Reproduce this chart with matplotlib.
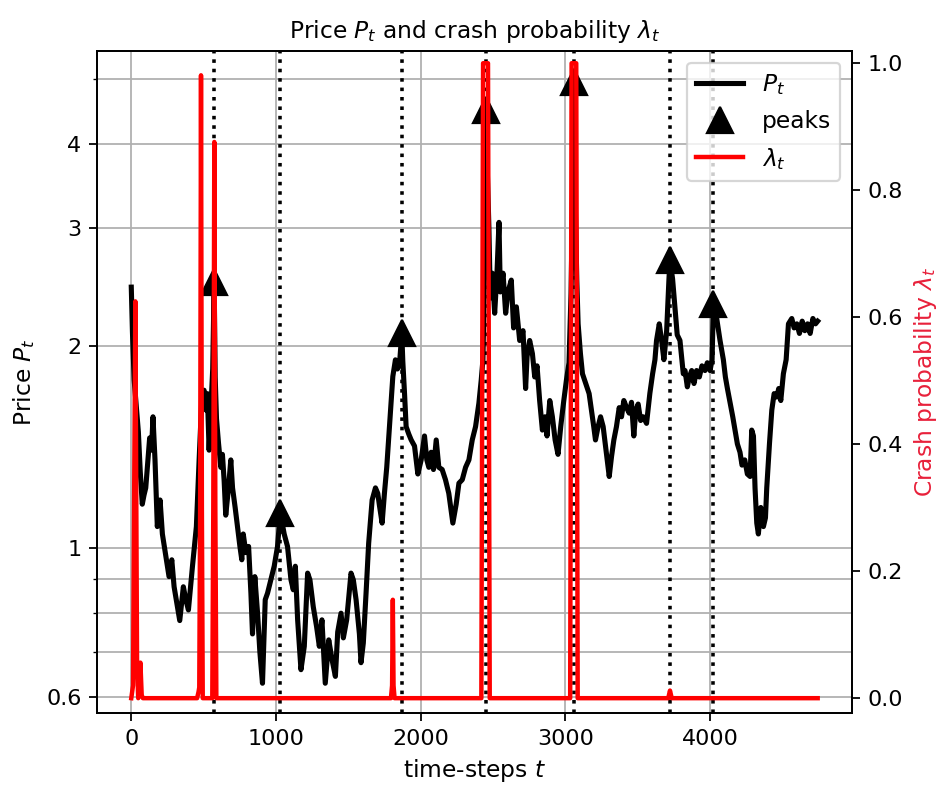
import numpy as np
import matplotlib.pyplot as plt
from matplotlib.ticker import NullFormatter

# price path P_t
price_t = [0, 8, 20, 35, 49, 62, 76, 88, 100, 111, 127, 140, 150, 164, 180, 199, 215, 243, 261, 280,
           296, 319, 335, 360, 377, 395, 423, 450, 469, 487, 503, 515, 526, 538, 552, 563, 573, 580, 589, 603,
           619, 630, 642, 653, 672, 688, 700, 718, 734, 751, 764, 774, 792, 811, 827, 838, 854, 873, 889, 907,
           926, 942, 965, 988, 1011, 1030, 1057, 1080, 1104, 1120, 1134, 1150, 1173, 1196, 1219, 1235, 1258, 1281, 1300, 1318,
           1341, 1365, 1388, 1411, 1427, 1450, 1466, 1489, 1519, 1535, 1554, 1577, 1588, 1604, 1623, 1641, 1665, 1688, 1704, 1715,
           1734, 1750, 1766, 1785, 1808, 1826, 1840, 1854, 1862, 1870, 1877, 1889, 1900, 1918, 1935, 1958, 1981, 2004, 2027, 2043,
           2057, 2073, 2089, 2108, 2126, 2149, 2172, 2195, 2223, 2246, 2265, 2288, 2311, 2334, 2357, 2380, 2403, 2419, 2431, 2442,
           2454, 2462, 2472, 2482, 2496, 2512, 2528, 2542, 2551, 2570, 2588, 2604, 2627, 2643, 2662, 2685, 2708, 2726, 2736, 2754,
           2773, 2789, 2805, 2823, 2842, 2860, 2874, 2893, 2911, 2930, 2950, 2969, 2990, 3008, 3026, 3040, 3050, 3061, 3070, 3080,
           3089, 3105, 3119, 3142, 3165, 3181, 3197, 3209, 3227, 3244, 3262, 3276, 3290, 3304, 3320, 3336, 3354, 3373, 3389, 3405,
           3424, 3442, 3458, 3474, 3488, 3504, 3521, 3539, 3562, 3585, 3604, 3620, 3631, 3650, 3666, 3682, 3701, 3717, 3724, 3742,
           3758, 3774, 3793, 3816, 3828, 3844, 3858, 3874, 3890, 3908, 3927, 3945, 3966, 3982, 4001, 4015, 4024, 4047, 4070, 4093,
           4107, 4121, 4139, 4158, 4174, 4190, 4208, 4222, 4241, 4259, 4278, 4289, 4301, 4312, 4324, 4335, 4352, 4370, 4384, 4393,
           4412, 4428, 4444, 4462, 4476, 4490, 4508, 4527, 4543, 4566, 4582, 4601, 4619, 4638, 4656, 4675, 4693, 4712, 4730, 4745]
price_p = [2.45, 2.10, 1.78, 1.62, 1.49, 1.30, 1.163, 1.20, 1.23, 1.32, 1.46, 1.40, 1.57, 1.354, 1.077, 1.18, 1.05, 0.961, 0.907, 0.961,
           0.876, 0.818, 0.78, 0.876, 0.838, 0.809, 0.94, 1.077, 1.354, 1.66, 1.72, 1.607, 1.70, 1.40, 1.645, 1.85, 2.49, 1.80, 1.56, 1.434,
           1.32, 1.38, 1.26, 1.12, 1.23, 1.354, 1.23, 1.15, 1.077, 1.006, 0.961, 1.05, 0.985, 1.006, 0.857, 0.745, 0.907, 0.80, 0.70, 0.629,
           0.838, 0.857, 0.897, 0.94, 1.006, 1.13, 1.05, 1.006, 0.897, 0.867, 0.94, 0.782, 0.659, 0.714, 0.918, 0.897, 0.818, 0.764, 0.714, 0.782,
           0.629, 0.73, 0.682, 0.644, 0.75, 0.80, 0.735, 0.782, 0.918, 0.897, 0.838, 0.745, 0.675, 0.722, 0.857, 1.017, 1.18, 1.23, 1.207, 1.16,
           1.09, 1.207, 1.32, 1.518, 1.803, 1.909, 1.85, 1.88, 1.98, 2.09, 1.90, 1.70, 1.518, 1.48, 1.45, 1.42, 1.29, 1.354, 1.47, 1.354,
           1.32, 1.39, 1.31, 1.45, 1.32, 1.31, 1.265, 1.207, 1.09, 1.163, 1.25, 1.265, 1.32, 1.354, 1.45, 1.518, 1.645, 1.78, 1.91, 2.6,
           4.50, 3.6, 3.02, 2.36, 2.57, 2.24, 2.57, 3.06, 2.41, 2.57, 2.24, 2.41, 2.51, 2.13, 2.29, 2.04, 2.11, 1.73, 1.93, 2.04,
           1.95, 1.80, 1.87, 1.66, 1.50, 1.57, 1.47, 1.66, 1.57, 1.45, 1.38, 1.52, 1.66, 1.78, 1.89, 2.4, 3.3, 4.95, 3.2, 2.5,
           2.16, 1.95, 1.82, 1.76, 1.70, 1.607, 1.518, 1.45, 1.518, 1.57, 1.518, 1.434, 1.354, 1.279, 1.37, 1.45, 1.518, 1.62, 1.57, 1.66,
           1.62, 1.59, 1.65, 1.47, 1.607, 1.64, 1.55, 1.57, 1.535, 1.702, 1.82, 1.909, 2.04, 2.16, 2.04, 1.91, 2.11, 2.52, 2.69, 2.52,
           2.29, 2.08, 2.04, 1.82, 1.84, 1.74, 1.80, 1.84, 1.76, 1.84, 1.80, 1.87, 1.84, 1.89, 1.84, 1.91, 2.31, 2.20, 2.04, 1.91,
           1.80, 1.73, 1.65, 1.57, 1.50, 1.43, 1.39, 1.33, 1.354, 1.29, 1.279, 1.50, 1.47, 1.23, 1.09, 1.05, 1.15, 1.077, 1.11, 1.23,
           1.434, 1.607, 1.70, 1.68, 1.73, 1.66, 1.82, 1.91, 2.16, 2.20, 2.13, 2.16, 2.09, 2.18, 2.11, 2.16, 2.09, 2.20, 2.16, 2.18]

# crash probability lambda_t
lam_t = [0, 12, 28, 40, 48, 55, 63, 72, 80, 455, 465, 470, 476, 482, 488, 494, 560, 567, 574, 581, 588,
         1795, 1803, 1808, 1813, 1820, 2420, 2432, 2466, 2478, 3034, 3044, 3076, 3086, 3712, 3724, 3736, 4745]
lam_v = [0, 0.02, 0.625, 0.05, 0.0, 0.01, 0.056, 0.005, 0, 0, 0.01, 0.017, 0.3, 0.981, 0.3, 0, 0, 0.3, 0.876, 0.3, 0,
         0, 0.02, 0.155, 0.02, 0, 0, 1.0, 1.0, 0, 0, 1.0, 1.0, 0, 0, 0.012, 0, 0]

# detected peaks
peak_t = [573, 1030, 1870, 2454, 3061, 3724, 4024]
peak_p = [2.49, 1.13, 2.09, 4.50, 4.95, 2.69, 2.31]

fig, ax = plt.subplots(figsize=(939 / 160, 790 / 160), dpi=160)
fig.subplots_adjust(left=0.1033, right=0.9073, top=0.9354, bottom=0.0975)

ax.plot(price_t, price_p, color="k", lw=2.3, label="$P_t$")
ax.plot(peak_t, peak_p, "^", color="k", ms=11.5, ls="none", label="peaks")
for t in peak_t:
    ax.axvline(t, color="k", ls=":", lw=1.6)

ax.set_yscale("log")
ax.set_ylim(0.568, 5.51)
ax.set_xlim(-237, 4982)
ax.set_yticks([0.6, 1, 2, 3, 4])
ax.set_yticklabels(["0.6", "1", "2", "3", "4"])
ax.yaxis.set_minor_formatter(NullFormatter())
ax.grid(True, which="major", color="#b0b0b0", lw=0.8)
ax.grid(True, which="minor", axis="y", color="#b0b0b0", lw=0.8)
ax.set_xlabel("time-steps $t$", fontsize=10.5)
ax.set_ylabel("Price $P_t$", fontsize=10.5)
ax.set_title(r"Price $P_t$ and crash probability $\lambda_t$", fontsize=10.5)

ax2 = ax.twinx()
ax2.plot(lam_t, lam_v, color="red", lw=2, label=r"$\lambda_t$")
ax2.set_ylim(-0.0233, 1.0192)
ax2.set_ylabel(r"Crash probability $\lambda_t$", color="#e8203a", fontsize=10.5)

h1, l1 = ax.get_legend_handles_labels()
h2, l2 = ax2.get_legend_handles_labels()
ax2.legend(h1 + h2, l1 + l2, loc="upper right", fontsize=10.5, labelspacing=0.55)

plt.savefig("out.png", dpi=160)
